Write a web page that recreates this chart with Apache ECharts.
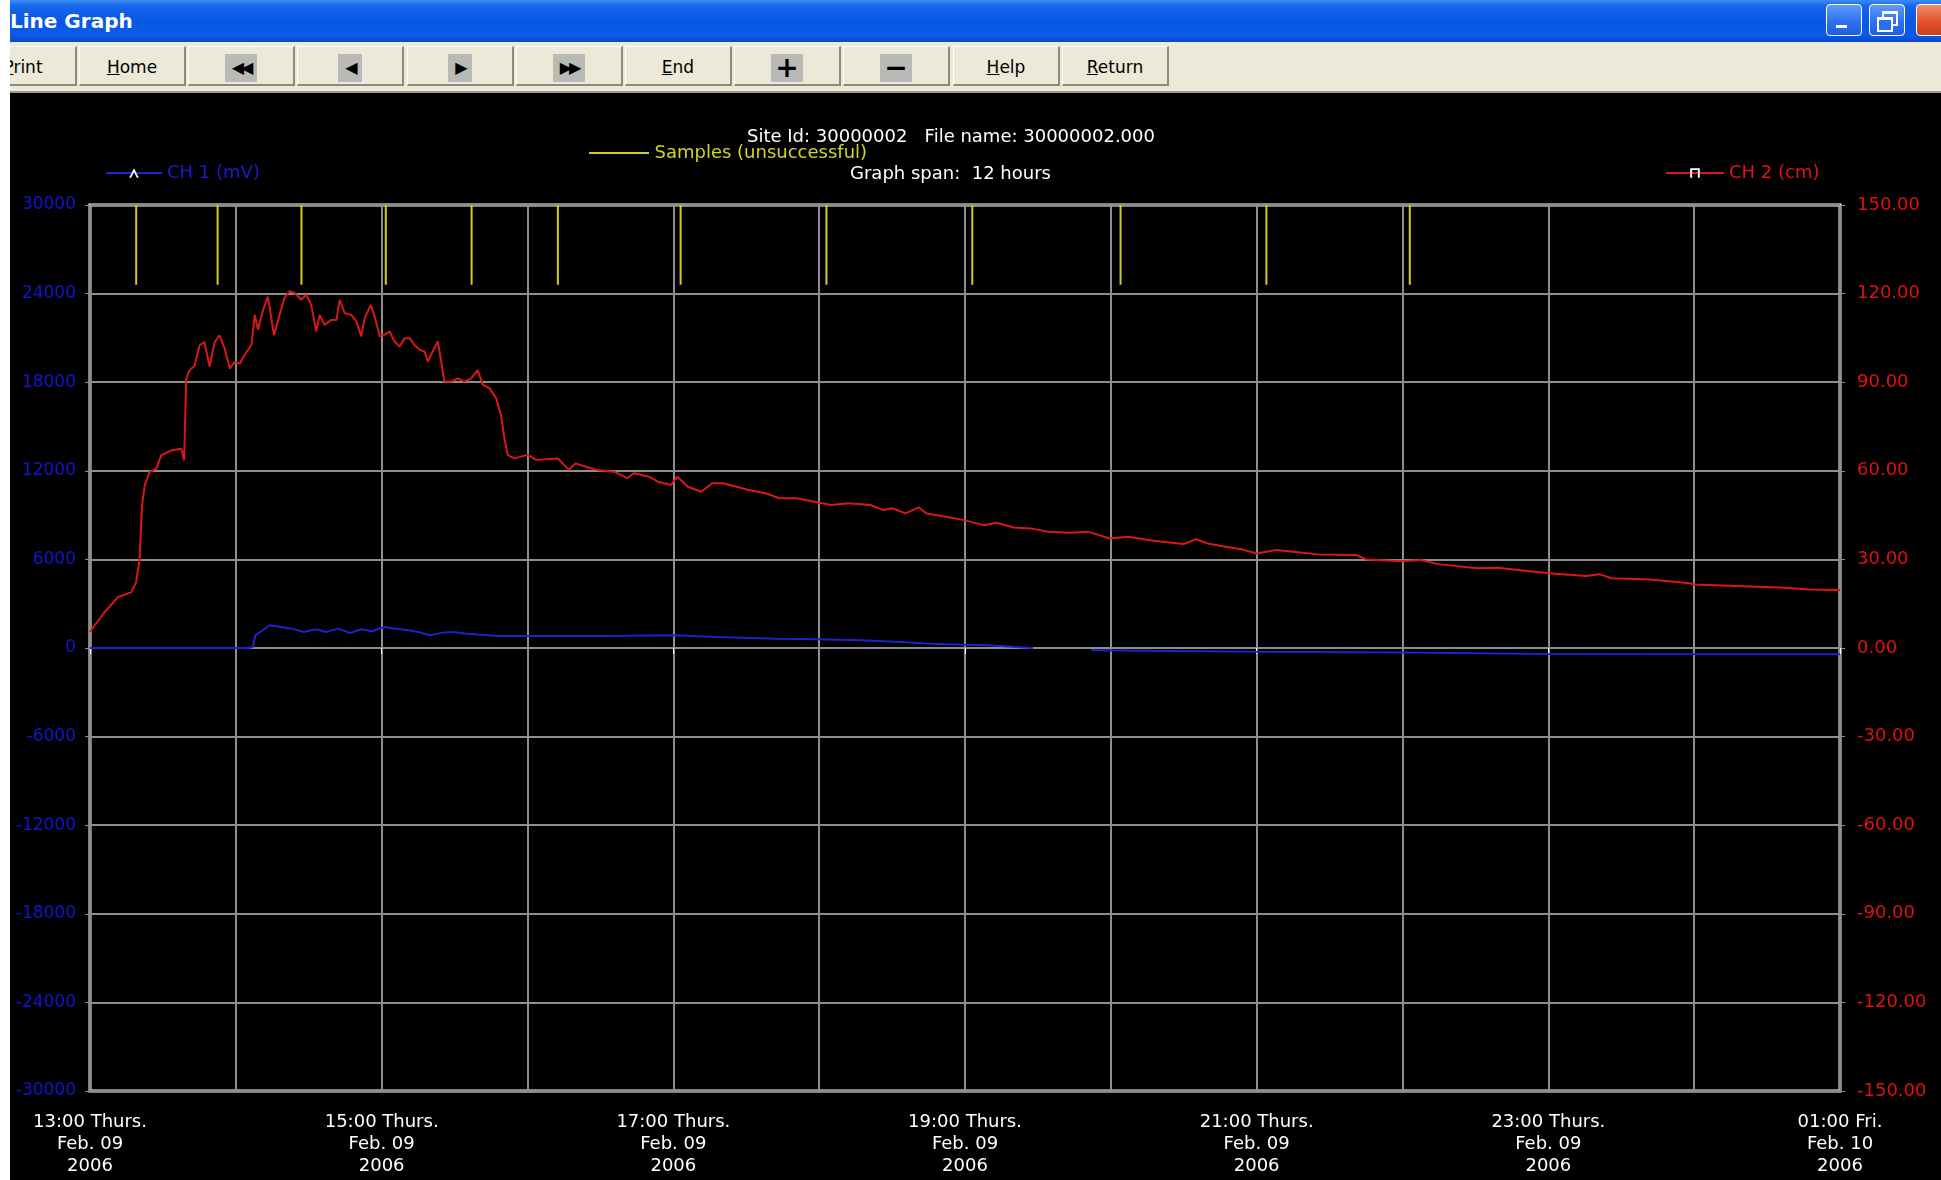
<!DOCTYPE html>
<html>
<head>
<meta charset="utf-8">
<title>Line Graph</title>
<script src="https://cdn.jsdelivr.net/npm/echarts@6/dist/echarts.min.js"></script>
<style>
html, body {
  margin: 0;
  padding: 0;
  width: 1941px;
  height: 1180px;
  overflow: hidden;
  background: #fff;
  font-family: "DejaVu Sans", sans-serif;
}
#titlebar {
  position: absolute;
  left: 10px;
  top: 0;
  width: 1931px;
  height: 42px;
  overflow: hidden;
  background: linear-gradient(to bottom, #3d8cf5 0%, #1667ea 14%, #0758e4 50%, #0a5be8 84%, #0848c9 100%);
}
#titlebar .cap {
  position: absolute;
  left: 0;
  top: 9px;
  color: #fff;
  font-weight: bold;
  font-size: 20px;
}
.wbtn {
  position: absolute;
  top: 4px;
  width: 36px;
  height: 32px;
  border: 1px solid #fff;
  border-radius: 4px;
  background: linear-gradient(to bottom, #5b9bf8, #2a6ff0 60%, #1e5fe0);
  box-sizing: border-box;
}
.wbtn.close { background: linear-gradient(to bottom, #f08a6a, #e0502a 60%, #c8401e); }
.wbtn .min { position: absolute; left: 9px; top: 20px; width: 11px; height: 3px; background: #fff; }
.wbtn .max1 { position: absolute; left: 12px; top: 6px; width: 12px; height: 10px; border: 2px solid #fff; border-top-width: 3px; }
.wbtn .max2 { position: absolute; left: 7px; top: 12px; width: 12px; height: 10px; border: 2px solid #fff; border-top-width: 3px; background: #2a6ff0; }
#toolbar {
  position: absolute;
  left: 10px;
  top: 42px;
  width: 1931px;
  height: 49px;
  overflow: hidden;
  background: #ece9d8;
  border-bottom: 2px solid #9d9a8c;
}
.btn {
  position: absolute;
  top: 4px;
  width: 107px;
  height: 40px;
  box-sizing: border-box;
  border-left: 1px solid #fff;
  border-top: 1px solid #fff;
  border-right: 2px solid #8d8a7f;
  border-bottom: 2px solid #8d8a7f;
  text-align: center;
  line-height: 40px;
  font-size: 17px;
  color: #000;
}
.ico {
  display: inline-block;
  background: #b9b9b6;
  height: 28px;
  line-height: 28px;
  padding: 0 7px;
  vertical-align: middle;
  font-size: 16px;
  letter-spacing: -3px;
}
.ico.big { font-size: 28px; font-weight: bold; letter-spacing: 0; padding: 0 4px; }
#chart {
  position: absolute;
  left: 10px;
  top: 93px;
  width: 1931px;
  height: 1087px;
  background: #000;
}
</style>
</head>
<body>
<div id="titlebar">
  <span class="cap">Line Graph</span>
  <div class="wbtn" style="left:1816px"><span class="min"></span></div>
  <div class="wbtn" style="left:1859px"><span class="max1"></span><span class="max2"></span></div>
  <div class="wbtn close" style="left:1906px"></div>
</div>
<div id="toolbar">
  <div class="btn" style="left:-40px"><u>P</u>rint</div>
  <div class="btn" style="left:69px"><u>H</u>ome</div>
  <div class="btn" style="left:178px"><span class="ico">&#9664;&#9664;</span></div>
  <div class="btn" style="left:287px"><span class="ico">&#9664;</span></div>
  <div class="btn" style="left:397px"><span class="ico">&#9654;</span></div>
  <div class="btn" style="left:506px"><span class="ico">&#9654;&#9654;</span></div>
  <div class="btn" style="left:615px"><u>E</u>nd</div>
  <div class="btn" style="left:724px"><span class="ico big">+</span></div>
  <div class="btn" style="left:833px"><span class="ico big">&#8722;</span></div>
  <div class="btn" style="left:943px"><u>H</u>elp</div>
  <div class="btn" style="left:1052px"><u>R</u>eturn</div>
</div>
<div id="chart"></div>

<script>
// bottom tick labels, one every 2 hours from 13:00
var timeLabels = [
  '13:00 Thurs.\nFeb. 09\n2006',
  '15:00 Thurs.\nFeb. 09\n2006',
  '17:00 Thurs.\nFeb. 09\n2006',
  '19:00 Thurs.\nFeb. 09\n2006',
  '21:00 Thurs.\nFeb. 09\n2006',
  '23:00 Thurs.\nFeb. 09\n2006',
  '01:00 Fri.\nFeb. 10\n2006'
];

// CH 2 (cm) - minutes after 13:00, right axis
var ch2Min = [0, 6, 11.5, 17, 19, 20.4, 21.4, 22.5, 24.5, 27.3,
  29.3, 33.5, 37.6, 38.7, 39.6, 41, 43, 45.1, 47.1, 49.2,
  51.3, 53.3, 55.4, 57.5, 59.5, 61.6, 63.6, 66.4, 67.8, 69.1,
  71.2, 73.2, 75.7, 78, 80, 82.1, 84.2, 86.9, 89, 91,
  93.1, 94.5, 96.5, 99.3, 101.4, 102.7, 104.8, 107.5, 109.6, 111.6,
  113, 115.5, 117.1, 119.2, 121.2, 123.3, 125.3, 127.4, 129.4, 131.5,
  133.5, 135.6, 137.6, 139, 141, 143.1, 144.5, 145.8, 148.6, 151.3,
  154, 156.8, 159.5, 161.6, 164.3, 167.1, 169.1, 170.5, 171.9, 174.6,
  177.4, 180, 183.6, 192.5, 197, 199.7, 204, 208.6, 215.7, 221,
  223.8, 230, 233.6, 239, 241.7, 246, 251.5, 256, 260.4, 266,
  271, 278, 283.6, 290.8, 298, 305, 312, 321, 326.5, 330,
  335.5, 341, 344, 351.5, 359.6, 367.6, 373, 380, 387, 394,
  403, 410.6, 419.5, 427, 435.6, 441, 450, 455, 460, 467,
  474, 480, 488, 495, 505.5, 521, 525, 540, 547.6, 554.6,
  570.5, 579, 600, 615.5, 621, 626, 642, 658, 660, 677,
  695, 707.6, 720];
var ch2Val = [5.5, 12.1, 17.2, 18.9, 22.3, 30.2, 48.3, 55, 59.6, 60.7,
  65.2, 66.9, 67.5, 63.5, 91.2, 94, 95.6, 102.5, 103.6, 95.3,
  103.6, 105.9, 101.4, 94.6, 96.9, 96.3, 99.2, 102.6, 112.8, 107.8,
  114.5, 119, 105.9, 112.8, 118.5, 120.8, 120.2, 117.9, 119.6, 116.2,
  107.2, 112.8, 109.4, 111.1, 111.1, 117.9, 113.4, 112.8, 110.6, 105.5,
  111.7, 116.2, 112.3, 105.5, 106.1, 107.2, 103.8, 102.1, 104.9, 104.9,
  102.6, 101, 100.4, 97, 100.4, 103.8, 97, 90.2, 90.2, 91.3,
  90.2, 91.3, 94.1, 89.1, 88, 84.6, 78.9, 71, 65.3, 64.2,
  64.8, 65.4, 63.7, 64.2, 60.3, 62.5, 61.4, 60.3, 59.7, 57.5,
  59.2, 58, 56.3, 55.2, 58, 54.6, 52.9, 55.8, 55.8, 54.6,
  53.5, 52.4, 50.7, 50.7, 49.5, 48.4, 49, 48.4, 46.7, 47.3,
  45.6, 47.6, 45.6, 44.5, 43.3, 41.6, 42.4, 40.8, 40.5, 39.4,
  39, 39.4, 37.1, 37.7, 36.6, 36, 35.2, 36.8, 35.4, 34.3,
  33.4, 32, 33.2, 32.6, 31.7, 31.5, 30, 29.4, 29.8, 28.4,
  27, 27.2, 25.3, 24.4, 25, 23.6, 23.2, 21.9, 21.5, 21,
  20.5, 19.8, 19.6];

// CH 1 (mV) - minutes after 13:00, left axis ('-' = no reading)
var ch1Min = [0, 65, 67, 68, 70, 74, 78.5, 83, 88, 93,
  97, 102, 107, 111.6, 116, 121, 126, 131, 135, 140,
  145, 149.6, 154, 161, 168, 180, 211, 240, 258, 282,
  300, 317, 334, 346, 360, 369, 388, 400, 412, 480,
  540, 600, 720];
var ch1Val = [0, 0, 70, 860, 1085, 1540, 1420, 1310, 1085, 1265,
  1085, 1310, 1017, 1265, 1130, 1420, 1310, 1200, 1085, 860,
  1040, 1085, 975, 905, 815, 815, 815, 860, 745, 630,
  590, 520, 405, 295, 225, 180, 0, '-', -150, -250,
  -300, -400, -430];

// unsuccessful samples - minutes after 13:00
var sampleMin = [19, 52.5, 87, 121.7, 157, 192.5, 243, 303, 363, 424, 484, 543];
var sampleLow = 123;
var sampleHigh = 150;

var FONT = '"DejaVu Sans", sans-serif';
var GRID_GRAY = '#8e8e8e';

var chart = echarts.init(document.getElementById('chart'));

var ch2Data = ch2Min.map(function (m, i) { return [m, ch2Val[i]]; });
var ch1Data = ch1Min.map(function (m, i) { return [m, ch1Val[i]]; });
var sampleData = [];
sampleMin.forEach(function (m) {
  sampleData.push([m, sampleLow], [m, sampleHigh], [m, '-']);
});

var option = {
  backgroundColor: '#000',
  animation: false,
  textStyle: { fontFamily: FONT },
  title: [
    {
      text: 'Site Id: 30000002   File name: 30000002.000',
      left: 737, top: 35, padding: 0,
      textStyle: { color: '#fff', fontSize: 18, fontWeight: 'normal', fontFamily: FONT }
    },
    {
      text: 'Graph span:  12 hours',
      left: 840, top: 72, padding: 0,
      textStyle: { color: '#fff', fontSize: 18, fontWeight: 'normal', fontFamily: FONT }
    }
  ],
  legend: [
    {
      data: ['CH 1 (mV)'],
      left: 95, top: 71, padding: 0,
      itemWidth: 56, itemHeight: 12,
      selectedMode: false,
      itemStyle: { color: '#fff', borderWidth: 0 },
      textStyle: { color: '#1a1ad4', fontSize: 18, fontFamily: FONT }
    },
    {
      data: [{ name: 'Samples (unsuccessful)', icon: 'path://M0,0H60V2H0Z' }],
      left: 579, top: 51, padding: 0,
      itemWidth: 61, itemHeight: 2,
      selectedMode: false,
      textStyle: { color: '#d4d424', fontSize: 18, fontFamily: FONT }
    },
    {
      data: ['CH 2 (cm)'],
      left: 1655, top: 71, padding: 0,
      itemWidth: 58, itemHeight: 12,
      selectedMode: false,
      itemStyle: { color: '#fff', borderWidth: 0 },
      textStyle: { color: '#e01414', fontSize: 18, fontFamily: FONT }
    }
  ],
  grid: {
    left: 80, right: 101, top: 112, bottom: 89,
    show: true,
    borderColor: '#fff',
    borderWidth: 3,
    backgroundColor: 'transparent',
    containLabel: false,
    outerBoundsMode: 'none'
  },
  xAxis: {
    type: 'value',
    min: 0,
    max: 720,
    interval: 120,
    axisLine: { show: false },
    axisTick: { show: true, length: 6, lineStyle: { color: '#fff', width: 1 } },
    minorTick: { show: false, splitNumber: 2 },
    minorSplitLine: { show: true, lineStyle: { color: GRID_GRAY, width: 2 } },
    axisLabel: {
      color: '#fff',
      fontSize: 18,
      lineHeight: 22,
      margin: 20,
      fontFamily: FONT,
      formatter: function (v) {
        return timeLabels[v / 120] || '';
      }
    },
    splitLine: { show: true, lineStyle: { color: GRID_GRAY, width: 2 } }
  },
  yAxis: [
    {
      type: 'value',
      min: -30000,
      max: 30000,
      interval: 6000,
      position: 'left',
      axisLine: { show: false },
      axisTick: { show: true, length: 5, lineStyle: { color: GRID_GRAY } },
      axisLabel: {
        color: '#1414d0', fontSize: 17, margin: 14, fontFamily: FONT,
        formatter: function (v) { return String(v); }
      },
      splitLine: { show: true, lineStyle: { color: GRID_GRAY, width: 2 } }
    },
    {
      type: 'value',
      min: -150,
      max: 150,
      interval: 30,
      position: 'right',
      axisLine: { show: false },
      axisTick: { show: true, length: 5, lineStyle: { color: GRID_GRAY } },
      axisLabel: {
        color: '#e01010', fontSize: 18, margin: 17, fontFamily: FONT,
        formatter: function (v) { return v.toFixed(2); }
      },
      splitLine: { show: false }
    }
  ],
  series: [
    {
      name: 'CH 1 (mV)',
      type: 'line',
      yAxisIndex: 0,
      data: ch1Data,
      symbol: 'path://M0,10L5,0L10,10L8,10L5,4L2,10Z',
      showSymbol: false,
      lineStyle: { color: '#2020cc', width: 2 },
      itemStyle: { color: '#2020cc' },
      silent: true
    },
    {
      name: 'CH 2 (cm)',
      type: 'line',
      yAxisIndex: 1,
      data: ch2Data,
      symbol: 'path://M0,10V0H10V10H8V2H2V10Z',
      showSymbol: false,
      lineStyle: { color: '#d81818', width: 2 },
      itemStyle: { color: '#d81818' },
      silent: true
    },
    {
      name: 'Samples (unsuccessful)',
      type: 'line',
      yAxisIndex: 1,
      data: sampleData,
      symbol: 'none',
      lineStyle: { color: '#cccc22', width: 2 },
      itemStyle: { color: '#cccc22' },
      silent: true
    }
  ]
};

chart.setOption(option);
</script>
</body>
</html>
